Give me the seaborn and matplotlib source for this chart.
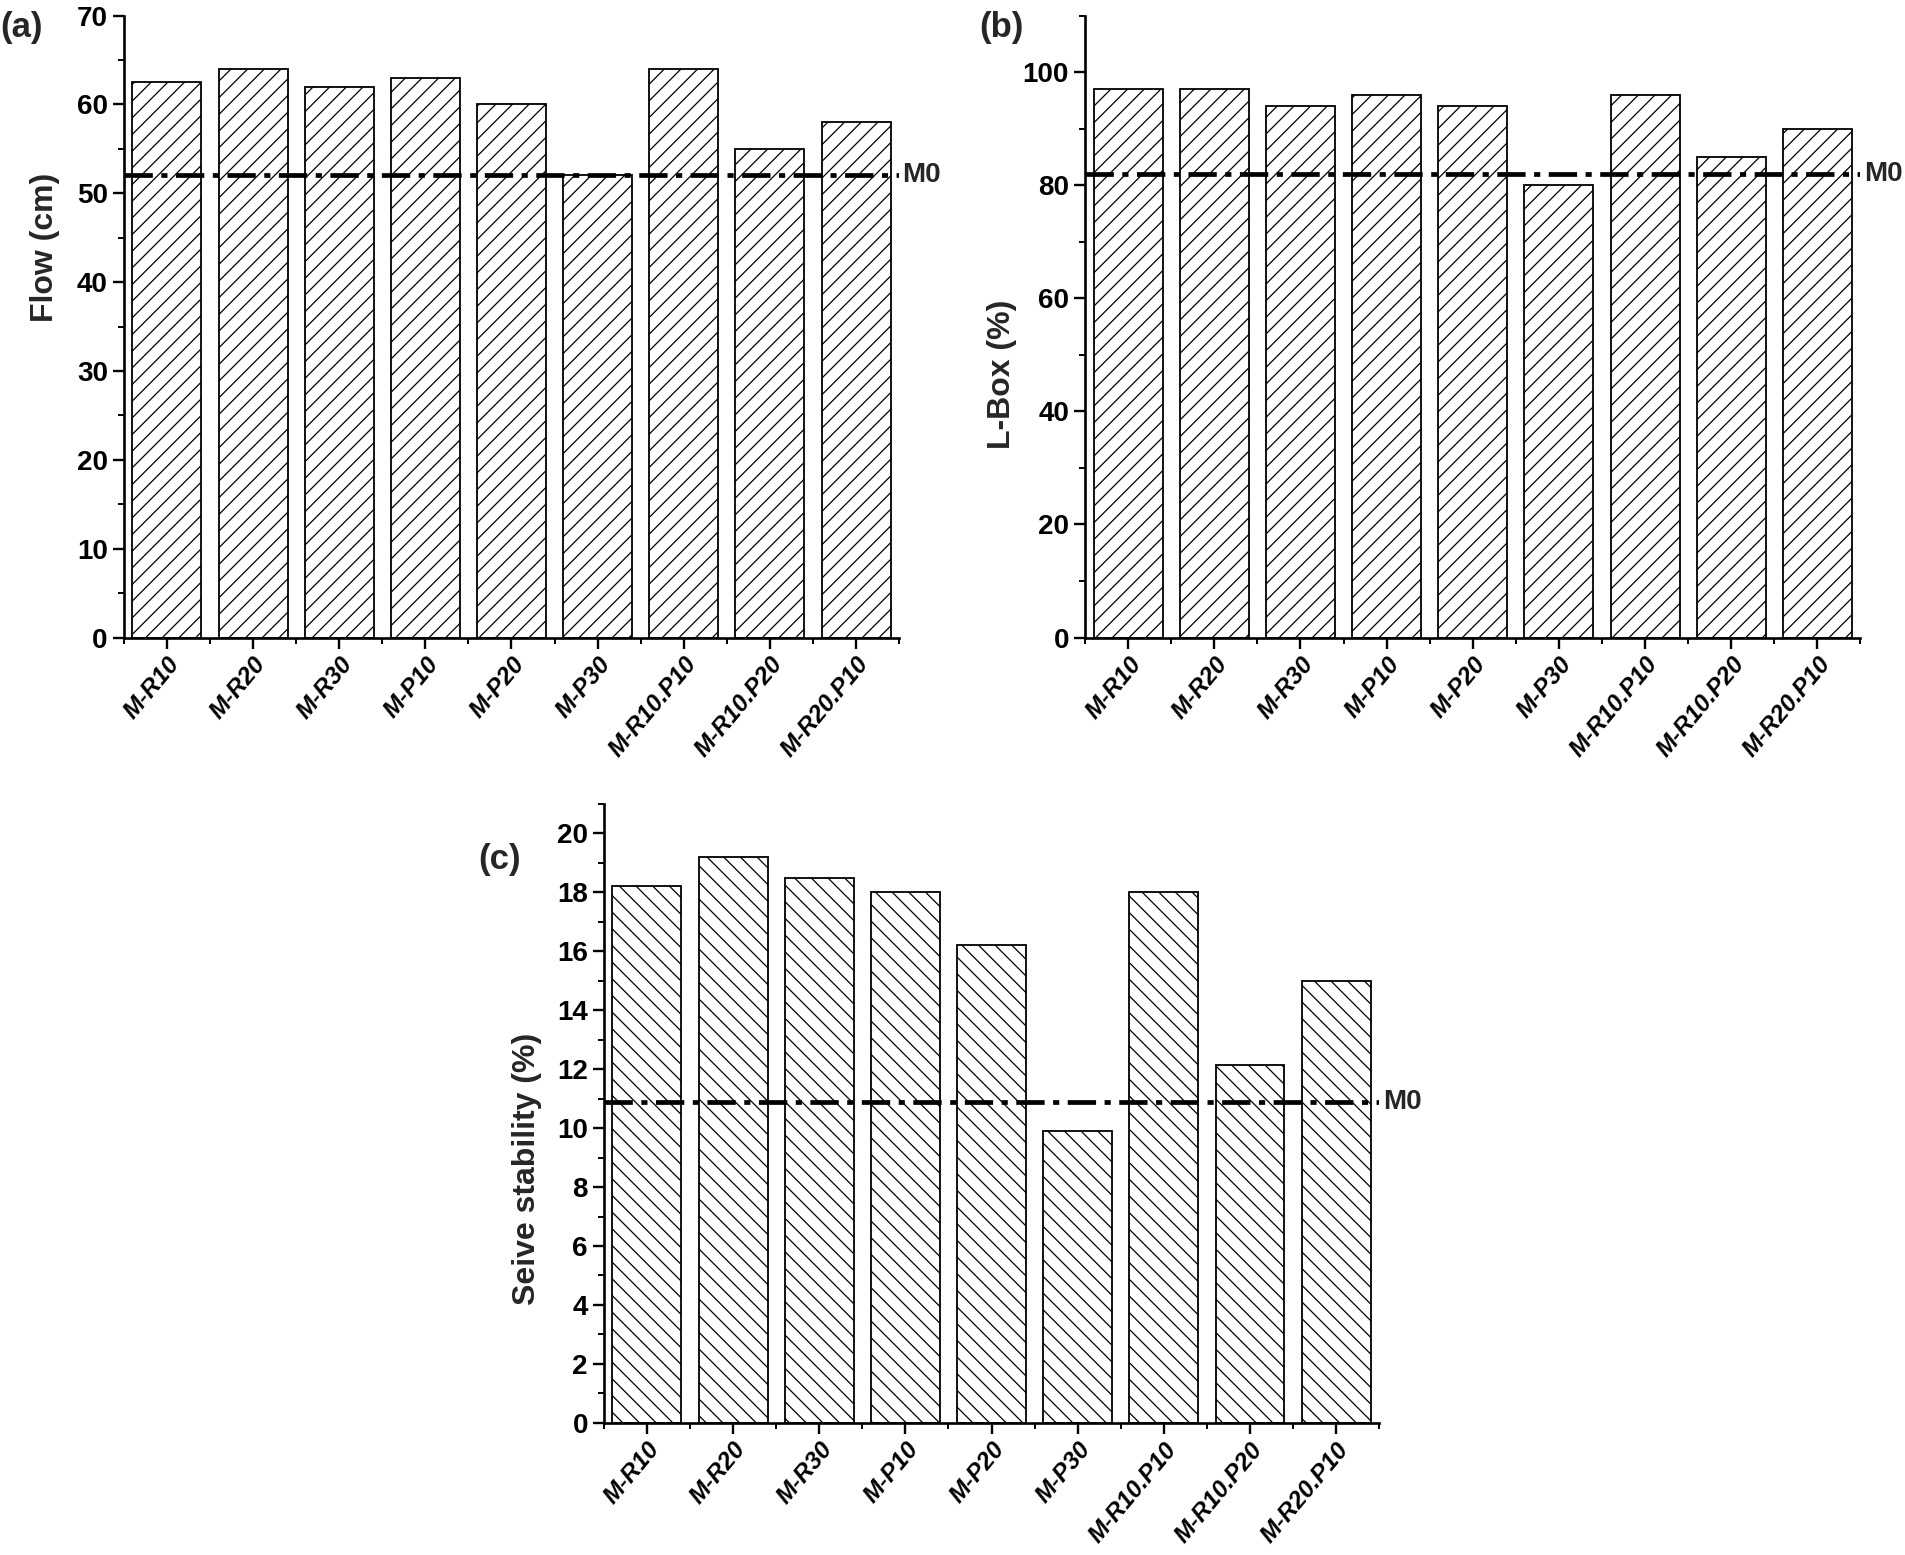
import numpy as np
import pandas as pd
import matplotlib
matplotlib.use('Agg')
import matplotlib.pyplot as plt
from matplotlib.ticker import MultipleLocator, FixedLocator
import seaborn as sns

sns.set_style('ticks')
plt.rcParams['font.family'] = ['Liberation Sans Narrow', 'Liberation Sans', 'DejaVu Sans']
plt.rcParams['font.weight'] = 'bold'
plt.rcParams['hatch.linewidth'] = 0.9

# data
mixes = ['M-R10', 'M-R20', 'M-R30', 'M-P10', 'M-P20', 'M-P30',
         'M-R10.P10', 'M-R10.P20', 'M-R20.P10']
flow = [62.5, 64, 62, 63, 60, 52, 64, 55, 58]
lbox = [97, 97, 94, 96, 94, 80, 96, 85, 90]
sieve = [18.2, 19.2, 18.5, 18.0, 16.2, 9.9, 18.0, 12.15, 15.0]
m0_flow = 52
m0_lbox = 82
m0_sieve = 10.9

fig = plt.figure(figsize=(19.05, 15.55), dpi=100)
ax_a = fig.add_axes([0.065, 0.590, 0.407, 0.400])
ax_b = fig.add_axes([0.5696, 0.590, 0.407, 0.400])
ax_c = fig.add_axes([0.317, 0.085, 0.407, 0.398])

panels = [
    (ax_a, flow, m0_flow, 'Flow (cm)', (0, 70), 10, 5, '//', (-0.082, 0.627)),
    (ax_b, lbox, m0_lbox, 'L-Box (%)', (0, 110), 20, 10, '//', (-0.088, 0.424)),
    (ax_c, sieve, m0_sieve, 'Seive stability (%)', (0, 21), 2, 1, '\\\\', (-0.08, 0.41)),
]

for ax, vals, m0, ylab, ylim, major, minor, hatch, lab_xy in panels:
    df = pd.DataFrame({'mix': mixes, 'value': vals})
    sns.barplot(data=df, x='mix', y='value', ax=ax, color='white',
                edgecolor='black', linewidth=1.3, width=0.8, saturation=1)
    for p in ax.patches:
        p.set_hatch(hatch)
        p.set_facecolor('white')
        p.set_edgecolor('black')

    ax.axhline(m0, color='black', lw=3.4, dashes=(6, 1.8, 1.3, 1.8), zorder=5)
    ax.text(len(mixes) - 0.5 + 0.04, m0, 'M0', fontsize=20, fontweight='bold',
            ha='left', va='center', clip_on=False)

    ax.set_xlim(-0.5, len(mixes) - 0.5)
    ax.set_ylim(*ylim)
    ax.yaxis.set_major_locator(MultipleLocator(major))
    ax.yaxis.set_minor_locator(MultipleLocator(minor))
    ax.xaxis.set_minor_locator(FixedLocator(np.arange(-0.5, len(mixes), 1.0)))

    sns.despine(ax=ax)
    for s in ['left', 'bottom']:
        ax.spines[s].set_linewidth(1.9)
        ax.spines[s].set_color('black')
    ax.tick_params(which='major', direction='out', length=8, width=1.7,
                   colors='black', labelsize=20)
    ax.tick_params(axis='x', which='major', pad=3)
    ax.tick_params(which='minor', direction='out', length=4.5, width=1.4,
                   colors='black')

    ax.set_xticks(range(len(mixes)))
    ax.set_xticklabels(mixes, rotation=50, ha='right', rotation_mode='anchor',
                       fontsize=17.5, fontweight='bold', fontstyle='italic')
    for t in ax.get_yticklabels():
        t.set_fontweight('bold')

    ax.set_xlabel('')
    ax.set_ylabel(ylab, fontsize=23, fontweight='bold',
                  family=['Liberation Sans', 'DejaVu Sans'])
    ax.yaxis.set_label_coords(*lab_xy)

fig.text(0.0, 0.993, '(a)', fontsize=25, fontweight='bold', va='top', ha='left')
fig.text(0.514, 0.993, '(b)', fontsize=25, fontweight='bold', va='top', ha='left')
fig.text(0.251, 0.458, '(c)', fontsize=25, fontweight='bold', va='top', ha='left')

fig.savefig('out.png', dpi=100, facecolor='white')
